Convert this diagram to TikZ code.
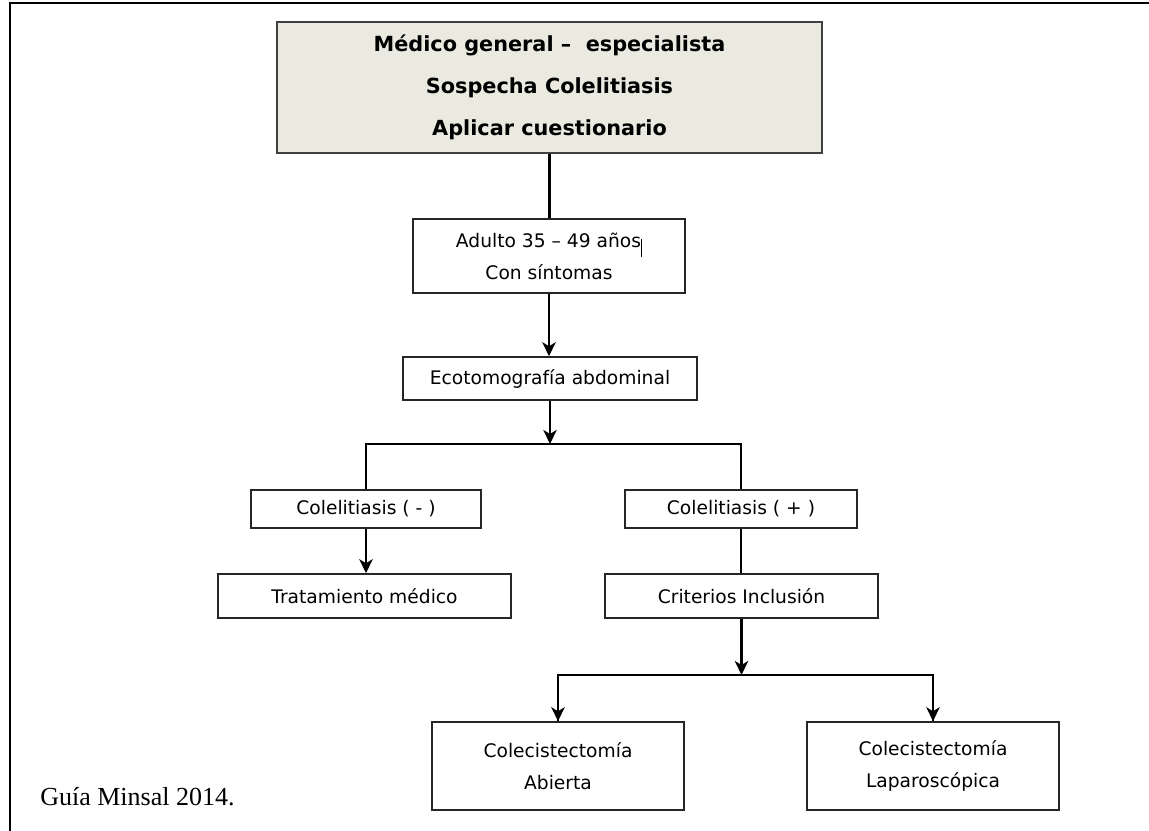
\documentclass[tikz,border=0pt]{standalone}
\usepackage{fontspec}
\setmainfont{Liberation Serif}
\newfontfamily\boxfont{DejaVu Sans}
\usetikzlibrary{arrows.meta}
\begin{document}
\begin{tikzpicture}[x=0.75pt,y=-0.75pt,
  wh/.style 2 args={minimum width=#1*0.75pt, minimum height=#2*0.75pt},
  box/.style={draw=black!85, line width=1.1pt, fill=white, rectangle, inner sep=0pt,
    align=center, font=\boxfont\fontsize{14}{24}\selectfont},
  mainbox/.style={box, draw=black!75, line width=1.4pt, fill=maincol,
    font=\boxfont\bfseries\fontsize{15.6}{31.5}\selectfont},
  conn/.style={line width=2.1pt, black},
  arr/.style={conn, -{Stealth[length=10.5pt,width=10pt,inset=3pt]}},
  frame/.style={line width=1.8pt, black},
]
\definecolor{maincol}{HTML}{EBEAE0}
\useasboundingbox (0,0) rectangle (1149,831);
\draw[frame] (10,831) -- (10,3) -- (1149,3);

\node[mainbox, wh={545}{131}] (main) at (549.5,87.5)
  {Médico general –\ \ especialista\\Sospecha Colelitiasis\\Aplicar cuestionario};
\node[box, wh={272}{74}] (adulto) at (549,256)
  {Adulto 35 – 49 años\rule[-7.5pt]{0.75pt}{13.5pt}\\Con síntomas};
\node[box, wh={294}{43}] (eco) at (550,378.5) {Ecotomografía abdominal};
\node[box, wh={230}{38}] (colneg) at (366,509) {Colelitiasis ( - )};
\node[box, wh={232}{38}] (colpos) at (741,509) {Colelitiasis ( + )};
\node[box, wh={293}{44}] (trat) at (364.5,596) {Tratamiento médico};
\node[box, wh={273}{44}] (crit) at (741.5,596) {Criterios Inclusión};
\node[box, wh={252}{88}] (abierta) at (558,766) {Colecistectomía\\Abierta};
\node[box, wh={252}{88}] (lapa) at (933,766) {Colecistectomía\\Laparoscópica};

\node[anchor=base west, inner sep=0pt, font=\fontsize{19.5}{22}\selectfont] (guia) at (40,805) {Guía Minsal 2014.};

\coordinate (b1) at (550,444);
\coordinate (b2) at (741.5,675);

\draw[conn] (main.south) -- (main.south |- adulto.north);
\draw[arr] (adulto.south) -- (adulto.south |- eco.north);
\draw[arr] (eco.south) -- (b1);
\draw[conn] (colneg.north) |- (b1) -| (colpos.north);
\draw[arr] (colneg.south) -- (colneg.south |- trat.north);
\draw[conn] (colpos.south) -- (colpos.south |- crit.north);
\draw[arr] (crit.south) -- (b2);
\draw[conn] (abierta.north) |- (b2) -| (lapa.north);
\draw[arr] (b2 -| abierta.north) -- (abierta.north);
\draw[arr] (b2 -| lapa.north) -- (lapa.north);
\end{tikzpicture}
\end{document}
